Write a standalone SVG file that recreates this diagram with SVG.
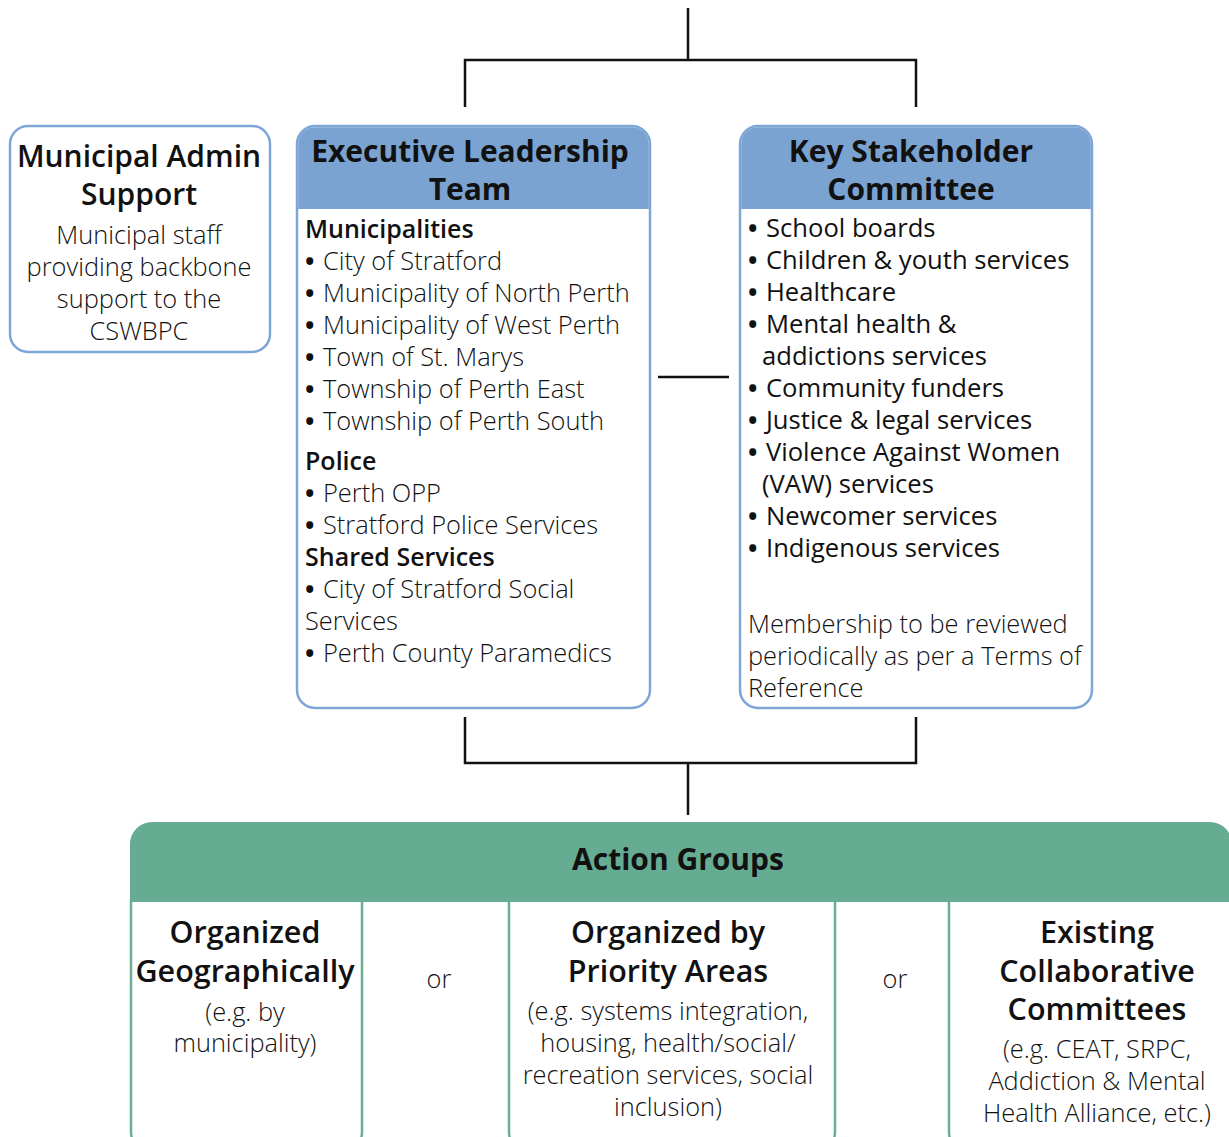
<svg xmlns="http://www.w3.org/2000/svg" width="1229" height="1137" viewBox="0 0 1229 1137">
<style>
.t{font-family:"Open Sans","Noto Sans","Liberation Sans",sans-serif;fill:#111}
.h{font-weight:600;font-size:30.5px}
.hb{font-weight:700;font-size:30px}
.l{font-weight:300;font-size:25.4px}
.r{font-weight:400;font-size:25.6px}
.s{font-weight:600;font-size:25px}
.b{font-weight:700;font-size:25px}
.bbox{fill:#fff;stroke:#7ea6d8;stroke-width:2.5}
.bhead{fill:#7ba3d2}
.gbox{fill:#fff;stroke:#6aae94;stroke-width:2.5}
.ghead{fill:#66ac92}
.ln{fill:none;stroke:#111;stroke-width:2.5}
</style>
<g id="connectors">
<path class="ln" d="M688 8V60M465 107V60H916V107"/>
<path class="ln" d="M658 377H729"/>
<path class="ln" d="M465 717V763H916V717M688 763V815"/>
</g>
<g id="admin">
<rect class="bbox" x="10" y="126" width="260" height="226" rx="18"/>
<text class="t h" text-anchor="middle" style="font-size:30px"><tspan x="139" y="167">Municipal Admin</tspan><tspan x="139" y="205">Support</tspan></text>
<text class="t l" text-anchor="middle"><tspan x="139" y="244">Municipal staff</tspan><tspan x="139" y="276">providing backbone</tspan><tspan x="139" y="308">support to the</tspan><tspan x="139" y="340">CSWBPC</tspan></text>
</g>
<g id="elt">
<rect class="bbox" x="297" y="126" width="353" height="582" rx="18"/>
<path class="bhead" d="M298.2 209V144A16.8 16.8 0 0 1 315 127.2H632A16.8 16.8 0 0 1 648.8 144V209Z"/>
<text class="t hb" text-anchor="middle"><tspan x="470" y="162">Executive Leadership</tspan><tspan x="470" y="200">Team</tspan></text>
<text class="t s" x="305" y="238">Municipalities</text>
<text class="t l"><tspan class="b" x="305" y="270">•</tspan><tspan x="323">City of Stratford</tspan></text>
<text class="t l"><tspan class="b" x="305" y="302">•</tspan><tspan x="323">Municipality of North Perth</tspan></text>
<text class="t l"><tspan class="b" x="305" y="334">•</tspan><tspan x="323">Municipality of West Perth</tspan></text>
<text class="t l"><tspan class="b" x="305" y="366">•</tspan><tspan x="323">Town of St. Marys</tspan></text>
<text class="t l"><tspan class="b" x="305" y="398">•</tspan><tspan x="323">Township of Perth East</tspan></text>
<text class="t l"><tspan class="b" x="305" y="430">•</tspan><tspan x="323">Township of Perth South</tspan></text>
<text class="t s" x="305" y="470">Police</text>
<text class="t l"><tspan class="b" x="305" y="502">•</tspan><tspan x="323">Perth OPP</tspan></text>
<text class="t l"><tspan class="b" x="305" y="534">•</tspan><tspan x="323">Stratford Police Services</tspan></text>
<text class="t s" x="305" y="566">Shared Services</text>
<text class="t l"><tspan class="b" x="305" y="598">•</tspan><tspan x="323">City of Stratford Social</tspan></text>
<text class="t l" x="305" y="630">Services</text>
<text class="t l"><tspan class="b" x="305" y="662">•</tspan><tspan x="323">Perth County Paramedics</tspan></text>
</g>
<g id="ksc">
<rect class="bbox" x="740" y="126" width="352" height="582" rx="18"/>
<path class="bhead" d="M741.2 209V144A16.8 16.8 0 0 1 758 127.2H1074A16.8 16.8 0 0 1 1090.8 144V209Z"/>
<text class="t hb" text-anchor="middle"><tspan x="911" y="162">Key Stakeholder</tspan><tspan x="911" y="200">Committee</tspan></text>
<text class="t r"><tspan class="b" x="748" y="237">•</tspan><tspan x="766">School boards</tspan></text>
<text class="t r"><tspan class="b" x="748" y="269">•</tspan><tspan x="766">Children &amp; youth services</tspan></text>
<text class="t r"><tspan class="b" x="748" y="301">•</tspan><tspan x="766">Healthcare</tspan></text>
<text class="t r"><tspan class="b" x="748" y="333">•</tspan><tspan x="766">Mental health &amp;</tspan></text>
<text class="t r" x="762" y="365">addictions services</text>
<text class="t r"><tspan class="b" x="748" y="397">•</tspan><tspan x="766">Community funders</tspan></text>
<text class="t r"><tspan class="b" x="748" y="429">•</tspan><tspan x="766">Justice &amp; legal services</tspan></text>
<text class="t r"><tspan class="b" x="748" y="461">•</tspan><tspan x="766">Violence Against Women</tspan></text>
<text class="t r" x="762" y="493">(VAW) services</text>
<text class="t r"><tspan class="b" x="748" y="525">•</tspan><tspan x="766">Newcomer services</tspan></text>
<text class="t r"><tspan class="b" x="748" y="557">•</tspan><tspan x="766">Indigenous services</tspan></text>
<text class="t l"><tspan x="748" y="633">Membership to be reviewed</tspan><tspan x="748" y="665">periodically as per a Terms of</tspan><tspan x="748" y="697">Reference</tspan></text>
</g>
<g id="action-groups">
<rect class="gbox" x="131" y="880" width="231" height="272" rx="20"/>
<rect class="gbox" x="509" y="880" width="326" height="272" rx="20"/>
<rect class="gbox" x="949" y="880" width="320" height="272" rx="20"/>
<path class="ghead" d="M130 902V844A22 22 0 0 1 152 822H1210A22 22 0 0 1 1232 844V902Z"/>
<text class="t hb" text-anchor="middle" x="678" y="870">Action Groups</text>
</g>
<g id="geo">
<text class="t h" text-anchor="middle"><tspan x="245" y="943">Organized</tspan><tspan x="245" y="982">Geographically</tspan></text>
<text class="t l" text-anchor="middle"><tspan x="245" y="1021">(e.g. by</tspan><tspan x="245" y="1052">municipality)</tspan></text>
</g>
<text class="t l" text-anchor="middle" x="439" y="988">or</text>
<g id="priority">
<text class="t h" text-anchor="middle"><tspan x="668" y="943">Organized by</tspan><tspan x="668" y="982">Priority Areas</tspan></text>
<text class="t l" text-anchor="middle"><tspan x="668" y="1020">(e.g. systems integration,</tspan><tspan x="668" y="1052">housing, health/social/</tspan><tspan x="668" y="1084">recreation services, social</tspan><tspan x="668" y="1116">inclusion)</tspan></text>
</g>
<text class="t l" text-anchor="middle" x="895" y="988">or</text>
<g id="existing">
<text class="t h" text-anchor="middle"><tspan x="1097" y="943">Existing</tspan><tspan x="1097" y="982">Collaborative</tspan><tspan x="1097" y="1020">Committees</tspan></text>
<text class="t l" text-anchor="middle"><tspan x="1097" y="1058">(e.g. CEAT, SRPC,</tspan><tspan x="1097" y="1090">Addiction &amp; Mental</tspan><tspan x="1097" y="1122">Health Alliance, etc.)</tspan></text>
</g>
</svg>
